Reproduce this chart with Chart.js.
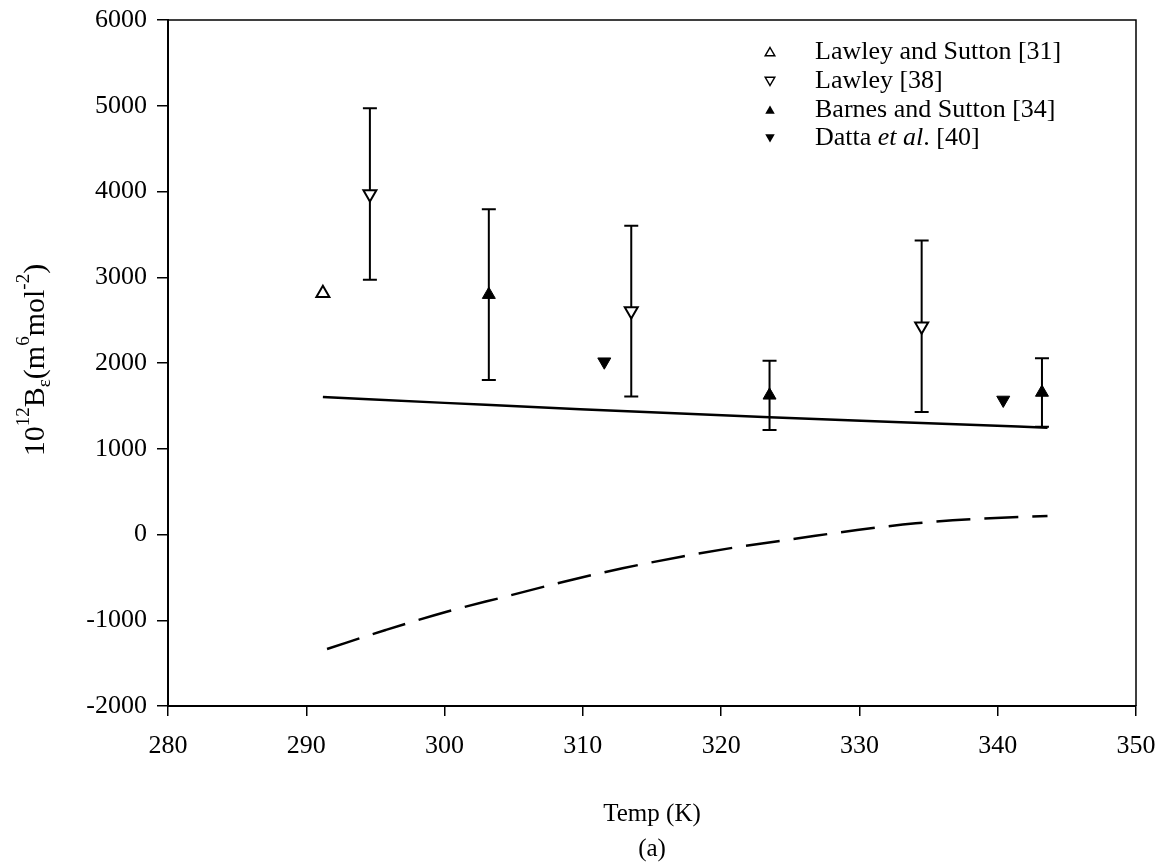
<!DOCTYPE html>
<html>
<head>
<meta charset="utf-8">
<script src="https://cdn.jsdelivr.net/npm/chart.js@4/dist/chart.umd.min.js"></script>
<style>
  body { margin: 0; background: #fff; }
</style>
</head>
<body>
<canvas id="chart" width="1163" height="864"></canvas>
<script>
// values
var ls31T = [291.2];
var ls31B = [2813];

var lawley38T = [294.6, 313.5, 334.5];
var lawley38B = [3970, 2605, 2430];
var lawley38Err = [1000, 995, 1000];

var barnes34T = [303.2, 323.5, 343.2];
var barnes34B = [2797, 1623, 1656];
var barnes34Err = [995, 404, 399];

var datta40T = [311.55, 340.4];
var datta40B = [2015, 1569];

// model curves
var solidT = [291.2, 300, 309.8, 323.5, 333, 343.6];
var solidB = [1603, 1535, 1460, 1367, 1310, 1246];

var dashT = [291.5, 295.74, 300.15, 304.39, 308.63, 312.87, 317.11, 321.35, 325.59, 329.83, 334.07, 338.31, 343.6];
var dashB = [-1335, -1114, -900, -725, -550, -394, -259, -142, -44, 52, 131, 181, 216];

var xTicks = [280, 290, 300, 310, 320, 330, 340, 350];
var yTicks = [-2000, -1000, 0, 1000, 2000, 3000, 4000, 5000, 6000];

var legendNames = ["Lawley and Sutton [31]", "Lawley [38]", "Barnes and Sutton [34]", "Datta ", "et al", ". [40]"];

var SERIF = "'Liberation Serif', 'Times New Roman', serif";

function pts(xs, ys) {
	var out = [];
	for (var i = 0; i < xs.length; i++) {
		out.push({x: xs[i], y: ys[i]});
	}
	return out;
}

// vertical error bars, drawn under the markers
var errorBars = {
	id: 'errorBars',
	beforeDatasetsDraw: function(chart) {
		var ctx = chart.ctx;
		var yScale = chart.scales.y;
		chart.data.datasets.forEach(function(ds, di) {
			if (!ds.err) return;
			var meta = chart.getDatasetMeta(di);
			ctx.save();
			ctx.strokeStyle = '#000';
			ctx.lineWidth = 2;
			meta.data.forEach(function(p, i) {
				var v = ds.data[i].y;
				var top = yScale.getPixelForValue(v + ds.err[i]);
				var bot = yScale.getPixelForValue(v - ds.err[i]);
				ctx.beginPath();
				ctx.moveTo(p.x, top);
				ctx.lineTo(p.x, bot);
				ctx.moveTo(p.x - 7, top);
				ctx.lineTo(p.x + 7, top);
				ctx.moveTo(p.x - 7, bot);
				ctx.lineTo(p.x + 7, bot);
				ctx.stroke();
			});
			ctx.restore();
		});
	}
};

function triangle(ctx, x, y, r, down, filled) {
	var s = down ? -1 : 1;
	ctx.beginPath();
	ctx.moveTo(x, y - s * r);
	ctx.lineTo(x + r * 0.866, y + s * r * 0.5);
	ctx.lineTo(x - r * 0.866, y + s * r * 0.5);
	ctx.closePath();
	if (filled) {
		ctx.fillStyle = '#000';
		ctx.fill();
	} else {
		ctx.fillStyle = '#fff';
		ctx.fill();
		ctx.lineWidth = 1.5;
		ctx.strokeStyle = '#000';
		ctx.stroke();
	}
}

// box around the plot, legend and the rotated y title
var frame = {
	id: 'frame',
	afterDraw: function(chart) {
		var ctx = chart.ctx;
		var a = chart.chartArea;
		ctx.save();
		ctx.strokeStyle = '#000';
		ctx.lineWidth = 1.5;
		ctx.beginPath();
		ctx.moveTo(a.left, a.top);
		ctx.lineTo(a.right, a.top);
		ctx.lineTo(a.right, a.bottom);
		ctx.stroke();

		// legend
		var rows = [52, 81, 110, 138];
		var mx = 770, tx = 815;
		triangle(ctx, mx, rows[0] + 1, 5.5, false, false);
		triangle(ctx, mx, rows[1] - 1, 5.5, true, false);
		triangle(ctx, mx, rows[2] + 1, 5.5, false, true);
		triangle(ctx, mx, rows[3] - 1, 5.5, true, true);
		ctx.fillStyle = '#000';
		ctx.textBaseline = 'middle';
		ctx.textAlign = 'left';
		ctx.font = '26px ' + SERIF;
		ctx.fillText(legendNames[0], tx, rows[0]);
		ctx.fillText(legendNames[1], tx, rows[1]);
		ctx.fillText(legendNames[2], tx, rows[2]);
		var x = tx;
		ctx.fillText(legendNames[3], x, rows[3]);
		x += ctx.measureText(legendNames[3]).width;
		ctx.font = 'italic 26px ' + SERIF;
		ctx.fillText(legendNames[4], x, rows[3]);
		x += ctx.measureText(legendNames[4]).width;
		ctx.font = '26px ' + SERIF;
		ctx.fillText(legendNames[5], x, rows[3]);

		// y title: 10^12 B_e (m^6 mol^-2)
		var parts = [
			{t: '10', s: 30, dy: 0},
			{t: '12', s: 19, dy: -12},
			{t: 'B', s: 30, dy: 0},
			{t: '\u03b5', s: 19, dy: 9},
			{t: '(m', s: 30, dy: 0},
			{t: '6', s: 19, dy: -12},
			{t: 'mol', s: 30, dy: 0},
			{t: '-2', s: 19, dy: -12},
			{t: ')', s: 30, dy: 0}
		];
		var total = 0;
		parts.forEach(function(p) {
			ctx.font = p.s + 'px ' + SERIF;
			p.w = ctx.measureText(p.t).width;
			total += p.w;
		});
		ctx.translate(36, 360);
		ctx.rotate(-Math.PI / 2);
		var px = -total / 2;
		ctx.textBaseline = 'middle';
		parts.forEach(function(p) {
			ctx.font = p.s + 'px ' + SERIF;
			ctx.fillText(p.t, px, p.dy);
			px += p.w;
		});
		ctx.restore();
	}
};

var ctx = document.getElementById('chart');
var chart = new Chart(ctx, {
	type: 'scatter',
	data: {
		datasets: [
			{
				label: 'solid',
				data: pts(solidT, solidB),
				showLine: true,
				borderColor: '#000',
				borderWidth: 2.5,
				pointRadius: 0,
				cubicInterpolationMode: 'monotone'
			},
			{
				label: 'dashed',
				data: pts(dashT, dashB),
				showLine: true,
				borderColor: '#000',
				borderWidth: 2.5,
				borderDash: [34, 14],
				pointRadius: 0,
				cubicInterpolationMode: 'monotone'
			},
			{
				label: legendNames[0],
				data: pts(ls31T, ls31B),
				pointStyle: 'triangle',
				pointRadius: 7.5,
				backgroundColor: '#fff',
				borderColor: '#000',
				borderWidth: 2
			},
			{
				label: legendNames[1],
				data: pts(lawley38T, lawley38B),
				err: lawley38Err,
				pointStyle: 'triangle',
				rotation: 180,
				pointRadius: 7.5,
				backgroundColor: '#fff',
				borderColor: '#000',
				borderWidth: 2
			},
			{
				label: legendNames[2],
				data: pts(barnes34T, barnes34B),
				err: barnes34Err,
				pointStyle: 'triangle',
				pointRadius: 7.5,
				backgroundColor: '#000',
				borderColor: '#000',
				borderWidth: 1
			},
			{
				label: 'Datta et al. [40]',
				data: pts(datta40T, datta40B),
				pointStyle: 'triangle',
				rotation: 180,
				pointRadius: 7.5,
				backgroundColor: '#000',
				borderColor: '#000',
				borderWidth: 1
			}
		]
	},
	options: {
		responsive: false,
		animation: false,
		layout: { padding: { left: 0, right: 27, top: 20, bottom: 0 } },
		plugins: {
			legend: { display: false },
			tooltip: { enabled: false }
		},
		scales: {
			x: {
				type: 'linear',
				min: 280,
				max: 350,
				afterFit: function(s) { s.height = 158; s.paddingLeft = 0; s.paddingRight = 0; },
				afterBuildTicks: function(s) { s.ticks = xTicks.map(function(v) { return {value: v}; }); },
				ticks: {
					color: '#000', padding: 15, maxRotation: 0,
					font: { family: SERIF, size: 26 },
					callback: function(v) { return String(v); }
				},
				grid: { drawOnChartArea: false, drawTicks: true, tickLength: 10, color: '#000', lineWidth: 1.5 },
				border: { color: '#000', width: 2 },
				title: {
					display: true,
					text: ['Temp (K)', '(a)'],
					color: '#000',
					padding: { top: 0, bottom: -3 },
					font: { family: SERIF, size: 25, lineHeight: 1.4 }
				}
			},
			y: {
				type: 'linear',
				min: -2000,
				max: 6000,
				afterFit: function(s) { s.width = 168; s.paddingTop = 0; s.paddingBottom = 0; },
				afterBuildTicks: function(s) { s.ticks = yTicks.map(function(v) { return {value: v}; }); },
				ticks: {
					color: '#000', padding: 10,
					font: { family: SERIF, size: 26 },
					callback: function(v) { return String(v); }
				},
				grid: { drawOnChartArea: false, drawTicks: true, tickLength: 11, color: '#000', lineWidth: 1.5 },
				border: { color: '#000', width: 2 }
			}
		}
	},
	plugins: [errorBars, frame]
});
</script>
</body>
</html>
